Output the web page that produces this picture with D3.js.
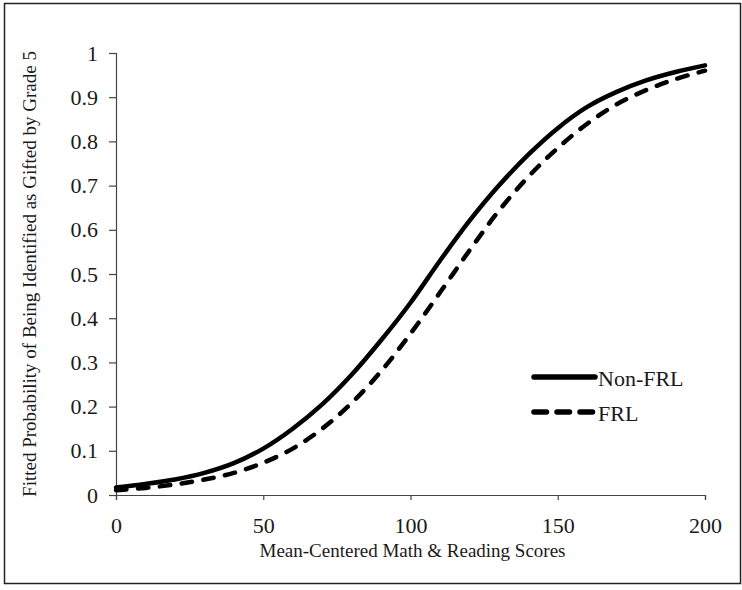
<!DOCTYPE html>
<html>
<head>
<meta charset="utf-8">
<script src="https://cdn.jsdelivr.net/npm/d3@7"></script>
<style>
  body { margin: 0; background: #fff; }
  svg text { font-family: "Times New Roman", "Liberation Serif", serif; fill: #1a1a1a; }
</style>
</head>
<body>
<div id="chart"></div>
<script>
// scores on the x axis
var scores = [0, 10, 20, 30, 40, 50, 60, 70, 80, 90, 100, 110, 120, 130, 140, 150, 160, 170, 180, 190, 200];

// fitted probabilities
var nonFrl = [0.017, 0.025, 0.035, 0.050, 0.072, 0.105, 0.150, 0.205, 0.272, 0.350, 0.435,
              0.530, 0.620, 0.700, 0.770, 0.830, 0.878, 0.912, 0.938, 0.957, 0.972];
var frl = [0.011, 0.016, 0.024, 0.035, 0.050, 0.073, 0.105, 0.150, 0.208, 0.280, 0.365,
           0.458, 0.553, 0.643, 0.720, 0.785, 0.840, 0.884, 0.916, 0.941, 0.960];

var xTicks = [0, 50, 100, 150, 200];
var yTicks = [0, 0.1, 0.2, 0.3, 0.4, 0.5, 0.6, 0.7, 0.8, 0.9, 1];

var seriesNames = ["Non-FRL", "FRL"];

const W = 742, H = 590;
const margin = { top: 53, right: 37, bottom: 95, left: 116 },
    width = W - margin.left - margin.right,
    height = H - margin.top - margin.bottom;

const svg = d3.select("#chart").append("svg")
    .attr("width", W)
    .attr("height", H);

// frame round the whole figure
svg.append("rect")
    .attr("x", 4.5).attr("y", 3.5)
    .attr("width", 736).attr("height", 580)
    .attr("fill", "none")
    .attr("stroke", "#222")
    .attr("stroke-width", 1.5);

const g = svg.append("g")
    .attr("transform", `translate(${margin.left}, ${margin.top})`);

const x = d3.scaleLinear().domain([0, 200]).range([0, width]);
const y = d3.scaleLinear().domain([0, 1]).range([height, 0]);

// axes
const xAxis = g.append("g")
    .attr("transform", `translate(0, ${height})`)
    .call(d3.axisBottom(x).tickValues(xTicks).tickSize(5).tickPadding(17).tickFormat(d3.format("d")));
xAxis.selectAll("text").style("font-size", "22px");

const yAxis = g.append("g")
    .call(d3.axisLeft(y).tickValues(yTicks).tickSize(7).tickPadding(11).tickFormat(d => d === 0 || d === 1 ? String(d) : d3.format(".1f")(d)));
yAxis.selectAll("text").style("font-size", "22px");

[xAxis, yAxis].forEach(function (a) {
    a.select(".domain").attr("stroke", "#444").attr("stroke-width", 1.2);
    a.selectAll(".tick line").attr("stroke", "#444").attr("stroke-width", 1.2);
});

// axis titles
g.append("text")
    .attr("x", width / 2 + 2)
    .attr("y", height + 62)
    .attr("text-anchor", "middle")
    .style("font-size", "19px")
    .text("Mean-Centered Math & Reading Scores");

g.append("text")
    .attr("transform", `translate(${-80}, ${height / 2}) rotate(-90)`)
    .attr("text-anchor", "middle")
    .style("font-size", "19px")
    .text("Fitted Probability of Being Identified as Gifted by Grade 5");

// curves
const line = d3.line()
    .x(d => x(d[0]))
    .y(d => y(d[1]))
    .curve(d3.curveCatmullRom.alpha(0.5));

g.append("path")
    .datum(scores.map((s, i) => [s, nonFrl[i]]))
    .attr("d", line)
    .attr("fill", "none")
    .attr("stroke", "#000")
    .attr("stroke-width", 4.5)
    .attr("stroke-linecap", "round");

g.append("path")
    .datum(scores.map((s, i) => [s, frl[i]]))
    .attr("d", line)
    .attr("fill", "none")
    .attr("stroke", "#000")
    .attr("stroke-width", 4.5)
    .attr("stroke-linecap", "round")
    .attr("stroke-dasharray", "10.5,11.5");

// legend
const legend = svg.append("g").attr("transform", "translate(532, 377)");
seriesNames.forEach(function (name, i) {
    const row = legend.append("g").attr("transform", `translate(0, ${i * 35})`);
    row.append("line")
        .attr("x1", 2).attr("x2", 63)
        .attr("y1", 0).attr("y2", 0)
        .attr("stroke", "#000")
        .attr("stroke-width", 5.5)
        .attr("stroke-linecap", "round")
        .attr("stroke-dasharray", i === 1 ? "12.5,10.5" : null);
    row.append("text")
        .attr("x", 66)
        .attr("y", 9)
        .style("font-size", "22px")
        .text(name);
});
</script>
</body>
</html>
